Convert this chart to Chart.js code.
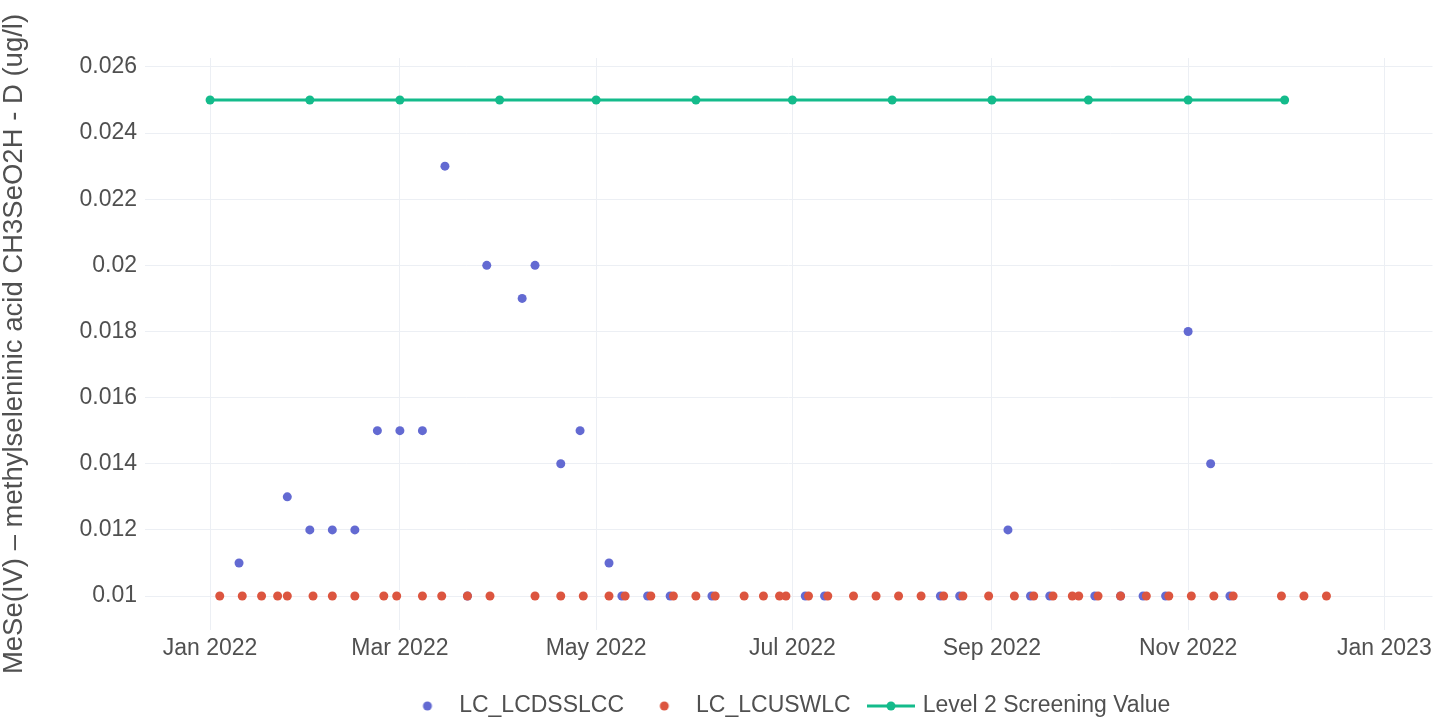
<!DOCTYPE html>
<html>
<head>
<meta charset="utf-8">
<script src="https://cdn.jsdelivr.net/npm/chart.js@4.4.1/dist/chart.umd.min.js"></script>
<style>
  html, body { margin: 0; padding: 0; background: #fff; }
  #wrap { width: 1437px; height: 721px; }
</style>
</head>
<body>
<div id="wrap"><canvas id="mese"></canvas></div>
<script>
// LC_LCDSSLCC samples
const dssDates = ['2022-01-10', '2022-01-25', '2022-02-01', '2022-02-08', '2022-02-15', '2022-02-22',
  '2022-03-01', '2022-03-08', '2022-03-15', '2022-03-22', '2022-03-28', '2022-04-08', '2022-04-12',
  '2022-04-20', '2022-04-26', '2022-05-05', '2022-05-09', '2022-05-17', '2022-05-24', '2022-06-06',
  '2022-07-05', '2022-07-11', '2022-08-16', '2022-08-22', '2022-09-06', '2022-09-13', '2022-09-19',
  '2022-10-03', '2022-10-11', '2022-10-18', '2022-10-25', '2022-11-01', '2022-11-08', '2022-11-14'];
const dssValues = [0.011, 0.013, 0.012, 0.012, 0.012, 0.015,
  0.015, 0.015, 0.023, 0.01, 0.02, 0.019, 0.02,
  0.014, 0.015, 0.011, 0.01, 0.01, 0.01, 0.01,
  0.01, 0.01, 0.01, 0.01, 0.012, 0.01, 0.01,
  0.01, 0.01, 0.01, 0.01, 0.018, 0.014, 0.01];

// LC_LCUSWLC samples (all at 0.01)
const uswDates = ['2022-01-04', '2022-01-11', '2022-01-17', '2022-01-22', '2022-01-25', '2022-02-02',
  '2022-02-08', '2022-02-15', '2022-02-24', '2022-02-28', '2022-03-08', '2022-03-14', '2022-03-22',
  '2022-03-29', '2022-04-12', '2022-04-20', '2022-04-27', '2022-05-05', '2022-05-10', '2022-05-18',
  '2022-05-25', '2022-06-01', '2022-06-07', '2022-06-16', '2022-06-22', '2022-06-27', '2022-06-29',
  '2022-07-06', '2022-07-12', '2022-07-20', '2022-07-27', '2022-08-03', '2022-08-10', '2022-08-17',
  '2022-08-23', '2022-08-31', '2022-09-08', '2022-09-14', '2022-09-20', '2022-09-26', '2022-09-28',
  '2022-10-04', '2022-10-11', '2022-10-19', '2022-10-26', '2022-11-02', '2022-11-09', '2022-11-15',
  '2022-11-30', '2022-12-07', '2022-12-14'];
const uswValues = uswDates.map(() => 0.01);

// Level 2 screening value, monthly
const screenDates = ['2022-01-01', '2022-02-01', '2022-03-01', '2022-04-01', '2022-05-01', '2022-06-01',
  '2022-07-01', '2022-08-01', '2022-09-01', '2022-10-01', '2022-11-01', '2022-12-01'];
const screenValues = [0.025, 0.025, 0.025, 0.025, 0.025, 0.025,
  0.025, 0.025, 0.025, 0.025, 0.025, 0.025];

const xTickDates = ['2022-01-01', '2022-03-01', '2022-05-01', '2022-07-01', '2022-09-01', '2022-11-01', '2023-01-01'];
const xTickLabels = ['Jan 2022', 'Mar 2022', 'May 2022', 'Jul 2022', 'Sep 2022', 'Nov 2022', 'Jan 2023'];
const yTickValues = [0.01, 0.012, 0.014, 0.016, 0.018, 0.02, 0.022, 0.024, 0.026];

const BLUE = '#636ad2';
const RED = '#dc553f';
const GREEN = '#14bb8b';
const TEXT = '#505050';
const FONT = "'Liberation Sans', Arial, sans-serif";

function toPoints(dates, values) {
  return dates.map((d, i) => ({ x: Date.parse(d), y: values[i] }));
}

// small canvases used as legend symbols (plotly style)
function legendSymbol(color, withLine) {
  const c = document.createElement('canvas');
  c.width = 48;
  c.height = 14;
  const g = c.getContext('2d');
  if (withLine) {
    g.strokeStyle = color;
    g.lineWidth = 3;
    g.beginPath();
    g.moveTo(0, 7);
    g.lineTo(48, 7);
    g.stroke();
  }
  g.fillStyle = color;
  g.beginPath();
  g.arc(24, 7, 4.5, 0, Math.PI * 2);
  g.fill();
  return c;
}
const legendIcons = [legendSymbol(BLUE, false), legendSymbol(RED, false), legendSymbol(GREEN, true)];

const ctx = document.getElementById('mese').getContext('2d');
new Chart(ctx, {
  type: 'scatter',
  data: {
    datasets: [{
      label: 'LC_LCDSSLCC',
      data: toPoints(dssDates, dssValues),
      backgroundColor: BLUE,
      borderColor: BLUE,
      borderWidth: 0,
      pointRadius: 4.5,
      order: 2
    }, {
      label: 'LC_LCUSWLC',
      data: toPoints(uswDates, uswValues),
      backgroundColor: RED,
      borderColor: RED,
      borderWidth: 0,
      pointRadius: 4.5,
      order: 1
    }, {
      label: 'Level 2 Screening Value',
      data: toPoints(screenDates, screenValues),
      showLine: true,
      backgroundColor: GREEN,
      borderColor: GREEN,
      borderWidth: 3,
      pointRadius: 4.5,
      pointBorderWidth: 0,
      order: 0
    }]
  },
  options: {
    responsive: true,
    maintainAspectRatio: false,
    animation: false,
    layout: { padding: { top: 58, right: 0, left: 0, bottom: -6.5 } },
    plugins: {
      tooltip: { enabled: false },
      legend: {
        position: 'bottom',
        fullSize: false,
        labels: {
          usePointStyle: true,
          pointStyleWidth: 40.5,
          boxHeight: 14,
          padding: 20,
          color: TEXT,
          font: { family: FONT, size: 23 },
          generateLabels: function (chart) {
            return chart.data.datasets.map((ds, i) => ({
              text: ds.label,
              datasetIndex: i,
              pointStyle: legendIcons[i],
              fillStyle: ds.backgroundColor,
              strokeStyle: ds.borderColor,
              lineWidth: 0,
              fontColor: TEXT,
              hidden: false
            }));
          }
        }
      }
    },
    scales: {
      x: {
        type: 'linear',
        min: Date.parse('2021-12-11T18:30:00Z'),
        max: Date.parse('2023-01-15T23:00:00Z'),
        afterBuildTicks: scale => { scale.ticks = xTickDates.map(d => ({ value: Date.parse(d) })); },
        afterFit: scale => { scale.height = 44.5; },
        grid: { color: '#eceff4', lineWidth: 1, drawTicks: false },
        border: { display: false },
        ticks: {
          padding: 5,
          maxRotation: 0,
          autoSkip: false,
          color: TEXT,
          font: { family: FONT, size: 23 },
          callback: (value, index) => xTickLabels[index]
        }
      },
      y: {
        min: 0.008972,
        max: 0.026272,
        afterBuildTicks: scale => { scale.ticks = yTickValues.map(v => ({ value: v })); },
        afterFit: scale => { scale.width = 145; },
        grid: { color: '#eceff4', lineWidth: 1, drawTicks: false },
        border: { display: false },
        ticks: {
          padding: 8,
          color: TEXT,
          font: { family: FONT, size: 23 },
          callback: value => String(value)
        },
        title: {
          display: true,
          text: 'MeSe(IV) – methylseleninic acid CH3SeO2H - D (ug/l)',
          color: TEXT,
          font: { family: FONT, size: 27.5 },
          padding: { top: -2, bottom: 0 }
        }
      }
    }
  }
});
</script>
</body>
</html>
